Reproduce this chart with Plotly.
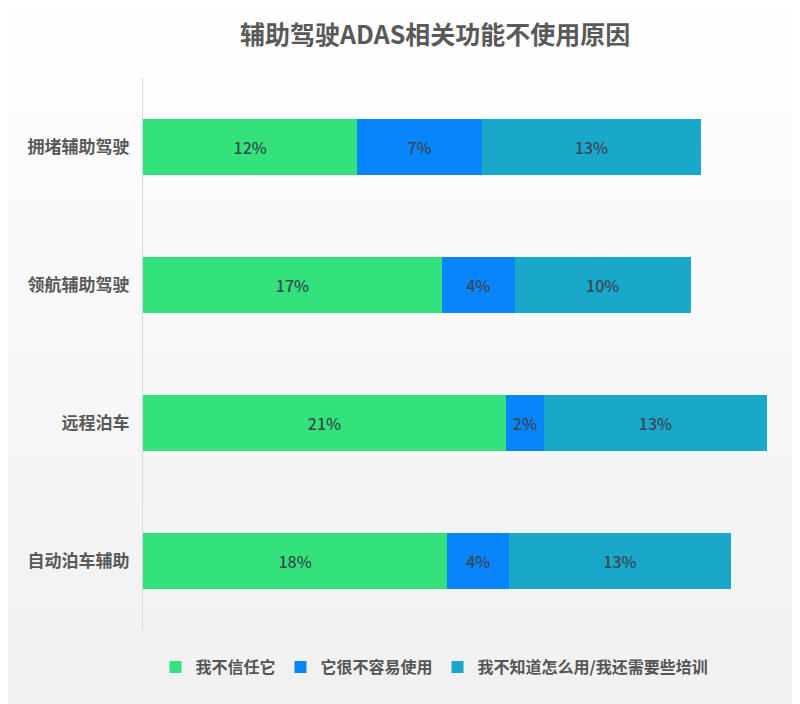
import plotly.graph_objects as go

# data
categories = ['拥堵辅助驾驶', '领航辅助驾驶', '远程泊车', '自动泊车辅助']
series_names = ['我不信任它', '它很不容易使用', '我不知道怎么用/我还需要些培训']
distrust = [12.4, 17.3, 21.0, 17.6]
hard_to_use = [7.2, 4.2, 2.2, 3.6]
need_training = [12.7, 10.2, 12.9, 12.8]
colors = ['#33e27a', '#0884fc', '#19a7ca']

fig = go.Figure()
for name, vals, col in zip(series_names, [distrust, hard_to_use, need_training], colors):
    fig.add_trace(go.Bar(
        y=categories, x=vals, name=f'<b>{name}</b>', orientation='h',
        marker=dict(color=col, line=dict(width=0)),
        text=[f'{v:.0f}%' for v in vals],
        textposition='inside', insidetextanchor='middle', textangle=0,
        textfont=dict(size=16, color='#3a4652', family='Noto Sans CJK SC', weight=500),
    ))

# soft vertical gradient for the background (covers the whole page)
n = 60
top, bottom = 1.2, -0.2
for i in range(n):
    c = round(255 - 15 * i / (n - 1), 1)
    fig.add_shape(type='rect', xref='paper', yref='paper', layer='below',
                  x0=-0.4, x1=1.1,
                  y0=top - (i + 1) * (top - bottom) / n, y1=top - i * (top - bottom) / n + 0.002,
                  fillcolor=f'rgb({c},{c},{c})', line=dict(width=0))

# page body has an 8px margin, so offsets are pulled in by 8px
fig.update_layout(
    width=800, height=704,
    barmode='stack', bargap=0.6,
    paper_bgcolor='#ffffff', plot_bgcolor='rgba(0,0,0,0)',
    margin=dict(l=135, r=10, t=70, b=82),
    title=dict(text='<b>辅助驾驶ADAS相关功能不使用原因</b>', x=0.534, xanchor='center',
               y=0.962, yanchor='middle',
               font=dict(size=25, color='#595959', family='Noto Sans CJK SC')),
    xaxis=dict(range=[0, 37.9], visible=False),
    yaxis=dict(autorange='reversed', showline=True, linecolor='#d9d9d9', linewidth=1,
               ticks='', ticklabelstandoff=9, automargin=False,
               tickfont=dict(size=17, color='#595959', family='Noto Sans CJK SC'),
               tickprefix='<b>', ticksuffix='</b>'),
    legend=dict(orientation='h', x=0.445, xanchor='center', y=-0.067, yanchor='middle',
                font=dict(size=16, color='#555555', family='Noto Sans CJK SC'),
                traceorder='normal', bgcolor='rgba(0,0,0,0)'),
)

fig.write_html('out.html')
